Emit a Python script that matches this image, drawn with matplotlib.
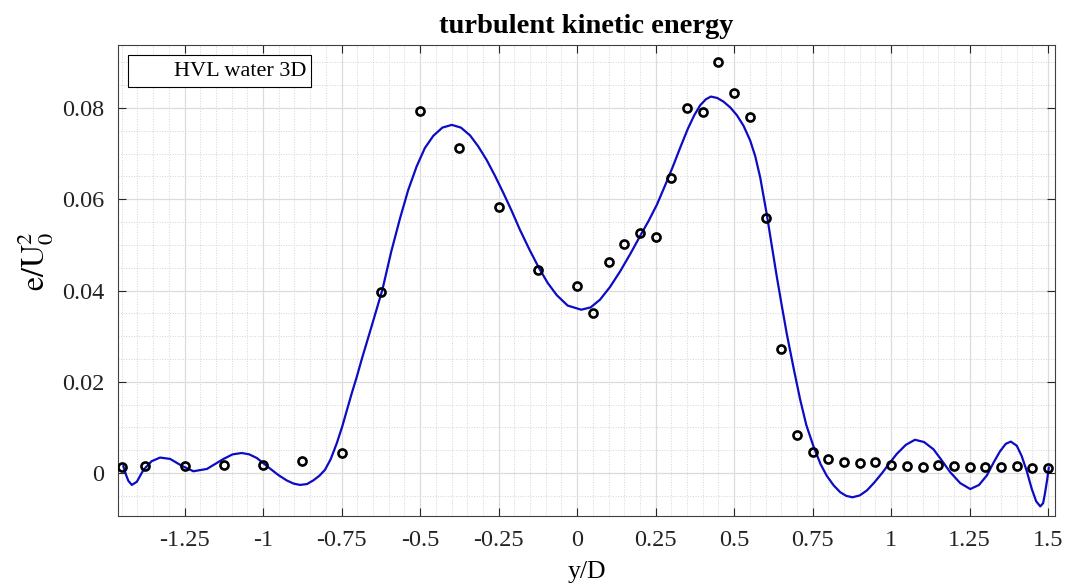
import numpy as np
import matplotlib
matplotlib.use("Agg")
import matplotlib.pyplot as plt
from matplotlib.lines import Line2D
from matplotlib.ticker import MultipleLocator

plt.rcParams['font.family'] = ['Liberation Serif', 'DejaVu Serif']
plt.rcParams['mathtext.fontset'] = 'stix'
plt.rcParams['axes.unicode_minus'] = False

# measured points (HVL water 3D)
y_pts = [-1.45, -1.375, -1.25, -1.125, -1.0, -0.875, -0.75, -0.625, -0.5, -0.375,
         -0.25, -0.125, 0.0, 0.05, 0.1, 0.15, 0.2, 0.25, 0.3, 0.35, 0.4, 0.45, 0.5,
         0.55, 0.6, 0.65, 0.7, 0.75, 0.8, 0.85, 0.9, 0.95, 1.0, 1.05, 1.1, 1.15,
         1.2, 1.25, 1.3, 1.35, 1.4, 1.45, 1.5]
e_pts = [0.0013, 0.0016, 0.0015, 0.0018, 0.0018, 0.0026, 0.0045, 0.0397, 0.0793, 0.0712,
         0.0584, 0.0444, 0.0409, 0.0350, 0.0463, 0.0503, 0.0527, 0.0517, 0.0647, 0.0799,
         0.0791, 0.0901, 0.0832, 0.0780, 0.0558, 0.0271, 0.0083, 0.0047, 0.0030, 0.0025,
         0.0023, 0.0024, 0.0018, 0.0015, 0.0014, 0.0017, 0.0015, 0.0014, 0.0014, 0.0013,
         0.0015, 0.0012, 0.0012]

# fitted curve
y_fit = [-1.445, -1.437, -1.429, -1.418, -1.402, -1.381, -1.355, -1.328, -1.296, -1.259,
         -1.222, -1.179, -1.126, -1.097, -1.068, -1.044, -1.020, -0.978, -0.952, -0.925,
         -0.903, -0.882, -0.860, -0.840, -0.821, -0.803, -0.785, -0.765, -0.748, -0.733,
         -0.718, -0.702, -0.686, -0.653, -0.620, -0.592, -0.564, -0.538, -0.511,
         -0.485, -0.458, -0.429, -0.399, -0.370, -0.341, -0.315, -0.288, -0.262, -0.235,
         -0.208, -0.182, -0.152, -0.122, -0.094, -0.065, -0.030, 0.013, 0.043, 0.073,
         0.105, 0.137, 0.170, 0.201, 0.228, 0.254, 0.280, 0.304, 0.330, 0.353, 0.373,
         0.392, 0.410, 0.426, 0.446, 0.466, 0.488, 0.509, 0.530, 0.551, 0.567, 0.583,
         0.604, 0.620, 0.636, 0.652, 0.668, 0.690, 0.710, 0.730, 0.753, 0.775, 0.795,
         0.817, 0.838, 0.857, 0.877, 0.900, 0.923, 0.946, 0.970, 0.994, 1.018, 1.047,
         1.076, 1.105, 1.135, 1.162, 1.188, 1.220, 1.252, 1.280, 1.305, 1.327, 1.347,
         1.365, 1.381, 1.400, 1.416, 1.432, 1.448, 1.462, 1.475, 1.484, 1.490, 1.497,
         1.502]
e_fit = [0.0015, -0.0003, -0.0017, -0.0026, -0.0019, 0.0007, 0.0026, 0.0034, 0.0031, 0.0016,
         0.0004, 0.0009, 0.0031, 0.0041, 0.0044, 0.0041, 0.0033, 0.0010, -0.0004, -0.0016,
         -0.0023, -0.0026, -0.0024, -0.0016, -0.0006, 0.0007, 0.0030, 0.0066, 0.0102, 0.0138,
         0.0174, 0.0210, 0.0249, 0.0325, 0.0402, 0.0485, 0.0558, 0.0620, 0.0672,
         0.0712, 0.0739, 0.0757, 0.0763, 0.0757, 0.0740, 0.0716, 0.0686, 0.0652, 0.0614,
         0.0574, 0.0533, 0.0490, 0.0450, 0.0417, 0.0390, 0.0367, 0.0358, 0.0363, 0.0380,
         0.0408, 0.0442, 0.0481, 0.0520, 0.0553, 0.0588, 0.0630, 0.0670, 0.0716, 0.0755,
         0.0784, 0.0806, 0.0819, 0.0825, 0.0822, 0.0814, 0.0801, 0.0784, 0.0761, 0.0729,
         0.0695, 0.0648, 0.0567, 0.0498, 0.0430, 0.0366, 0.0304, 0.0228, 0.0162, 0.0105,
         0.0058, 0.0020, -0.0006, -0.0027, -0.0042, -0.0050, -0.0053, -0.0049, -0.0038,
         -0.0021, -0.0001, 0.0021, 0.0042, 0.0062, 0.0073, 0.0068, 0.0052, 0.0027, 0.0002,
         -0.0022, -0.0035, -0.0026, -0.0005, 0.0024, 0.0048, 0.0064, 0.0069, 0.0060, 0.0037,
         0.0004, -0.0035, -0.0062, -0.0073, -0.0066, -0.0044, -0.0014, 0.0012]

xticks = [-1.25, -1.0, -0.75, -0.5, -0.25, 0.0, 0.25, 0.5, 0.75, 1.0, 1.25, 1.5]
xticklabels = ['-1.25', '-1', '-0.75', '-0.5', '-0.25', '0', '0.25', '0.5', '0.75', '1', '1.25', '1.5']
yticks = [0.0, 0.02, 0.04, 0.06, 0.08]
yticklabels = ['0', '0.02', '0.04', '0.06', '0.08']

fig = plt.figure(figsize=(10.67, 5.86), dpi=100)
ax = fig.add_axes([0.1106, 0.1195, 0.8782, 0.8037])

ax.plot(y_fit, e_fit, color='#0c0cc4', linewidth=1.6, zorder=3)
ax.plot(y_pts, e_pts, linestyle='none', marker='o', markersize=5.8,
        markerfacecolor='none', markeredgecolor='black', markeredgewidth=1.9, zorder=4)

ax.set_xlim(-1.462, 1.522)
ax.set_ylim(-0.0094, 0.0938)
ax.set_xticks(xticks)
ax.set_xticklabels(xticklabels)
ax.set_yticks(yticks)
ax.set_yticklabels(yticklabels)
ax.xaxis.set_minor_locator(MultipleLocator(0.05))
ax.yaxis.set_minor_locator(MultipleLocator(0.005))

ax.grid(True, which='major', color='#dcdcdc', linewidth=0.9, linestyle='-')
ax.grid(True, which='minor', color='#d4d4d4', linewidth=0.7, linestyle=':')
ax.set_axisbelow(True)

ax.tick_params(which='major', direction='in', length=6, width=0.8, top=True, right=True,
               labelsize=17.5, pad=10, colors='#262626', labelcolor='#222222')
ax.tick_params(which='minor', length=0, top=True, right=True)
for s in ax.spines.values():
    s.set_color('#404040')
    s.set_linewidth(0.8)

ax.set_xlabel('y/D', fontsize=18.5, labelpad=7)
ax.set_ylabel(r'$\mathrm{e/U_0^2}$', fontsize=23)
ax.yaxis.set_label_coords(-0.066, 0.54)
ax.set_title('turbulent kinetic energy', fontsize=20.5, fontweight='bold', pad=9)

dummy = Line2D([], [], linestyle='none')
leg = ax.legend([dummy], ['HVL water 3D'], loc='upper left', fontsize=16,
                fancybox=False, framealpha=1, edgecolor='black',
                handlelength=1.0, handletextpad=0.8, borderpad=0.25,
                bbox_to_anchor=(0.0, 1.0), borderaxespad=0.45)
leg.get_frame().set_linewidth(0.8)

fig.savefig('out.png', dpi=100)
